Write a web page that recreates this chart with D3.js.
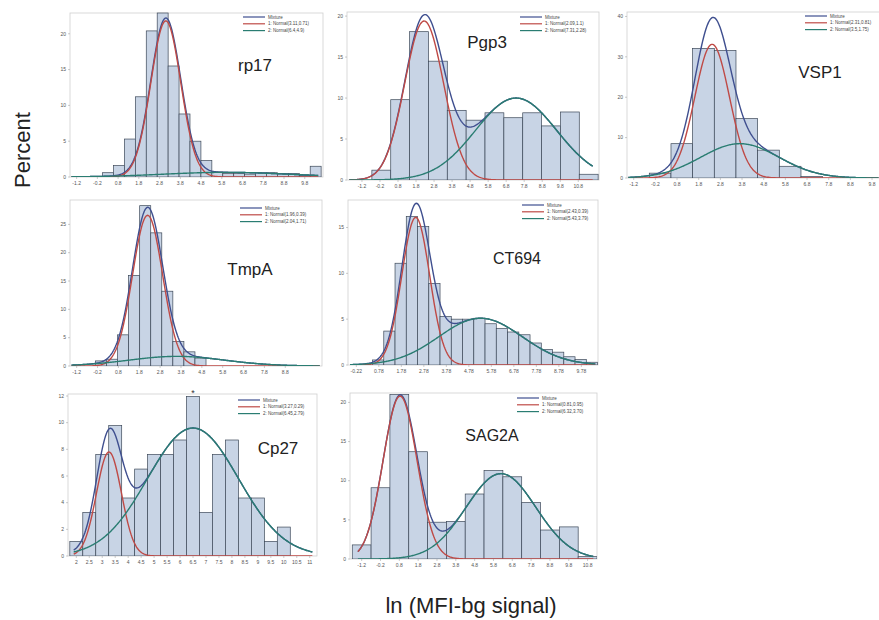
<!DOCTYPE html>
<html><head><meta charset="utf-8">
<script src="https://cdn.jsdelivr.net/npm/d3@7"></script>
<style>body{margin:0;background:#fff;} svg{display:block;font-family:"Liberation Sans",Arial,sans-serif;}</style>
</head><body><svg id="c" width="879" height="620"></svg>
<script>
// ---------------- data ----------------
const panelNames = ["rp17","Pgp3","VSP1","TmpA","CT694","Cp27","SAG2A"];

const rp17Heights  = [0.6,1.6,5.3,11.2,20.4,22.9,15.5,8.8,5.0,2.3,0.7,0.5,0.5,0.4,0.6,0.6,0.5,0.5,0.2,1.5];
const pgp3Heights  = [1.2,9.8,18.1,14.5,8.5,7.3,8.2,7.6,8.2,6.6,8.3,0.7];
const vsp1Heights  = [1.2,8.5,32.1,31.6,14.7,6.9,2.9,0.4];
const tmpaHeights  = [0.9,1.2,5.5,16.0,28.3,23.5,13.2,4.3,2.5,1.4];
const ct694Heights = [0.55,3.7,11.1,16.2,15.1,8.9,5.3,5.0,5.0,5.1,4.5,4.0,3.6,3.3,2.4,1.7,1.4,0.9,0.6,0.3];
const cp27Heights  = [1.09,3.26,7.61,9.78,4.35,6.52,7.61,7.61,8.70,11.96,3.26,7.61,8.70,4.35,4.35,1.09,2.17];
const sag2aHeights = [1.8,9.1,21.0,13.7,4.7,4.8,8.3,11.3,10.5,7.2,3.7,4.1,0.3];

const binStarts = [0.05,-0.65,-0.48,-0.3,0.5,1.75,-1.7];
const binWidths = [0.527,1.046,1.0,0.53,0.5,0.5,1.0];

// fitted normal components (mean, sd, peak height in percent)
const mu1   = [3.1,2.25,2.42,2.2,2.42,3.26,0.84];
const sd1   = [0.72,1.08,0.8,0.72,0.62,0.48,0.9];
const peak1 = [21.8,19.4,33.1,26.6,16.1,7.8,20.8];
const mu2   = [6.0,7.35,3.7,3.6,5.3,6.5,6.2];
const sd2   = [3.0,2.25,1.8,2.3,1.85,1.75,1.85];
const peak2 = [0.65,10.0,8.5,1.7,5.1,9.6,10.9];
const curveRanges = [[-1.45,10.45],[-1.9,11.6],[-1.45,10.1],[-1.45,10.45],[-0.5,10.4],[1.9,11.1],[-1.4,11.1]];

const yTicks = [[0,5,10,15,20],[0,5,10,15,20],[0,10,20,30,40],[0,5,10,15,20,25],[0,5,10,15],[0,2,4,6,8,10,12],[0,5,10,15,20]];
const rp17X  = [-1.2,-0.2,0.8,1.8,2.8,3.8,4.8,5.8,6.8,7.8,8.8,9.8];
const pgp3X  = [-1.2,-0.2,0.8,1.8,2.8,3.8,4.8,5.8,6.8,7.8,8.8,9.8,10.8];
const vsp1X  = [-1.2,-0.2,0.8,1.8,2.8,3.8,4.8,5.8,6.8,7.8,8.8,9.8];
const tmpaX  = [-1.2,-0.2,0.8,1.8,2.8,3.8,4.8,5.8,6.8,7.8,8.8];
const ct694X = [-0.22,0.78,1.78,2.78,3.78,4.78,5.78,6.78,7.78,8.78,9.78];
const cp27X  = [2,2.5,3,3.5,4,4.5,5,5.5,6,6.5,7,7.5,8,8.5,9,9.5,10,10.5,11];
const sag2aX = [-1.2,-0.2,0.8,1.8,2.8,3.8,4.8,5.8,6.8,7.8,8.8,9.8,10.8];

const legendLabels = [
  ["Mixture","1: Normal(3.11,0.71)","2: Normal(6.4,4.9)"],
  ["Mixture","1: Normal(2.09,1.1)","2: Normal(7.31,2.28)"],
  ["Mixture","1: Normal(2.31,0.81)","2: Normal(3.5,1.75)"],
  ["Mixture","1: Normal(1.96,0.39)","2: Normal(2.04,1.71)"],
  ["Mixture","1: Normal(2.43,0.39)","2: Normal(5.43,3.79)"],
  ["Mixture","1: Normal(3.27,0.29)","2: Normal(6.45,2.79)"],
  ["Mixture","1: Normal(0.81,0.95)","2: Normal(6.32,3.70)"]
];
const yAxisTitle = "Percent";
const xAxisTitle = "ln (MFI-bg signal)";

// ---------------- layout ----------------
const heightsList = [rp17Heights,pgp3Heights,vsp1Heights,tmpaHeights,ct694Heights,cp27Heights,sag2aHeights];
const xTickList = [rp17X,pgp3X,vsp1X,tmpaX,ct694X,cp27X,sag2aX];
const layout = [
  {l:70, r:323, t:13, b:177, xd:[-1.52,10.68], ymax:22.9, tx:255, ty:71, fs:17, lg:[243,17]},
  {l:347,r:599, t:12, b:180, xd:[-2.03,11.95], ymax:20.5, tx:487, ty:48, fs:17, lg:[520,17]},
  {l:627,r:882, t:12, b:178, xd:[-1.51,10.26], ymax:41.1, tx:820, ty:78, fs:17, lg:[805,16]},
  {l:70, r:322, t:200,b:366, xd:[-1.52,10.56], ymax:29.3, tx:250, ty:275, fs:17, lg:[240,208]},
  {l:348,r:598, t:200,b:365, xd:[-0.59,10.52], ymax:18.0, tx:517, ty:264, fs:16, lg:[522,205]},
  {l:68, r:317, t:394,b:556, xd:[1.68,11.28],  ymax:12.15,tx:278, ty:454, fs:17, lg:[238,400]},
  {l:350,r:597, t:393,b:559, xd:[-1.82,11.3],  ymax:21.2, tx:492, ty:441, fs:16, lg:[517,398]}
];
const cMix = "#3f4f8f", cOne = "#bf4a46", cTwo = "#2a7d72";
const barFill = "#c8d4e5", barStroke = "#3c4858";

const svg = d3.select("#c");
svg.append("rect").attr("width",879).attr("height",620).attr("fill","#fff");

function npdf(x, m, s, p){ return p*Math.exp(-((x-m)*(x-m))/(2*s*s)); }

panelNames.forEach((name,i)=>{
  const L = layout[i];
  const x = d3.scaleLinear().domain(L.xd).range([L.l,L.r]);
  const y = d3.scaleLinear().domain([0,L.ymax]).range([L.b,L.t]);
  const g = svg.append("g");
  const clipId = "clip"+i;
  g.append("clipPath").attr("id",clipId).append("rect")
    .attr("x",L.l).attr("y",L.t-1).attr("width",L.r-L.l).attr("height",L.b-L.t+1);

  // plot frame
  g.append("rect").attr("x",L.l).attr("y",L.t).attr("width",L.r-L.l).attr("height",L.b-L.t)
    .attr("fill","none").attr("stroke","#cfcfcf").attr("stroke-width",0.8);

  // bars
  const hs = heightsList[i];
  g.append("g").attr("clip-path",`url(#${clipId})`).selectAll("rect").data(hs).join("rect")
    .attr("x",(d,k)=>x(binStarts[i]+k*binWidths[i]))
    .attr("width",(d,k)=>x(binStarts[i]+(k+1)*binWidths[i])-x(binStarts[i]+k*binWidths[i]))
    .attr("y",d=>y(d)).attr("height",d=>y(0)-y(d))
    .attr("fill",barFill).attr("stroke",barStroke).attr("stroke-width",0.7);

  // curves
  const [c0,c1] = curveRanges[i];
  const xs = d3.range(0,301).map(k=>c0+(c1-c0)*k/300);
  const line = d3.line().x(d=>x(d[0])).y(d=>y(d[1]));
  const comp1 = xs.map(v=>[v,npdf(v,mu1[i],sd1[i],peak1[i])]);
  const comp2 = xs.map(v=>[v,npdf(v,mu2[i],sd2[i],peak2[i])]);
  const mix = xs.map(v=>[v,npdf(v,mu1[i],sd1[i],peak1[i])+npdf(v,mu2[i],sd2[i],peak2[i])]);
  const cg = g.append("g").attr("clip-path",`url(#${clipId})`).attr("fill","none").attr("stroke-width",1.4);
  cg.append("path").attr("d",line(mix)).attr("stroke",cMix);
  cg.append("path").attr("d",line(comp1)).attr("stroke",cOne);
  cg.append("path").attr("d",line(comp2)).attr("stroke",cTwo);

  // y axis ticks
  const ya = g.append("g").attr("font-size",5).attr("fill","#555");
  yTicks[i].forEach(t=>{
    ya.append("line").attr("x1",L.l-2).attr("x2",L.l).attr("y1",y(t)).attr("y2",y(t)).attr("stroke","#999").attr("stroke-width",0.5);
    ya.append("text").attr("x",L.l-4).attr("y",y(t)+1.8).attr("text-anchor","end").text(t);
  });
  // x axis ticks
  const xa = g.append("g").attr("font-size",5).attr("fill","#555");
  xTickList[i].forEach(t=>{
    xa.append("line").attr("x1",x(t)).attr("x2",x(t)).attr("y1",L.b).attr("y2",L.b+2).attr("stroke","#999").attr("stroke-width",0.5);
    xa.append("text").attr("x",x(t)).attr("y",L.b+8).attr("text-anchor","middle").text(String(t));
  });

  // legend
  const lg = g.append("g").attr("font-size",4.5).attr("fill","#444");
  [cMix,cOne,cTwo].forEach((c,k)=>{
    const ly = L.lg[1] + k*6.8;
    lg.append("line").attr("x1",L.lg[0]).attr("x2",L.lg[0]+22).attr("y1",ly).attr("y2",ly).attr("stroke",c).attr("stroke-width",1.2);
    lg.append("text").attr("x",L.lg[0]+25).attr("y",ly+1.6).text(legendLabels[i][k]);
  });

  // panel title
  g.append("text").attr("x",L.tx).attr("y",L.ty).attr("text-anchor","middle")
    .attr("font-size",L.fs).attr("fill","#222").text(name);

  if(name==="Cp27"){
    g.append("text").attr("x",x(6.5)).attr("y",L.t+2).attr("text-anchor","middle").attr("font-size",9).attr("fill","#333").text("*");
  }
});

svg.append("text").attr("transform","translate(30,150) rotate(-90)").attr("text-anchor","middle")
  .attr("font-size",22).attr("fill","#222").text(yAxisTitle);
svg.append("text").attr("x",471).attr("y",613).attr("text-anchor","middle")
  .attr("font-size",22).attr("fill","#222").text(xAxisTitle);
</script>
</body></html>
